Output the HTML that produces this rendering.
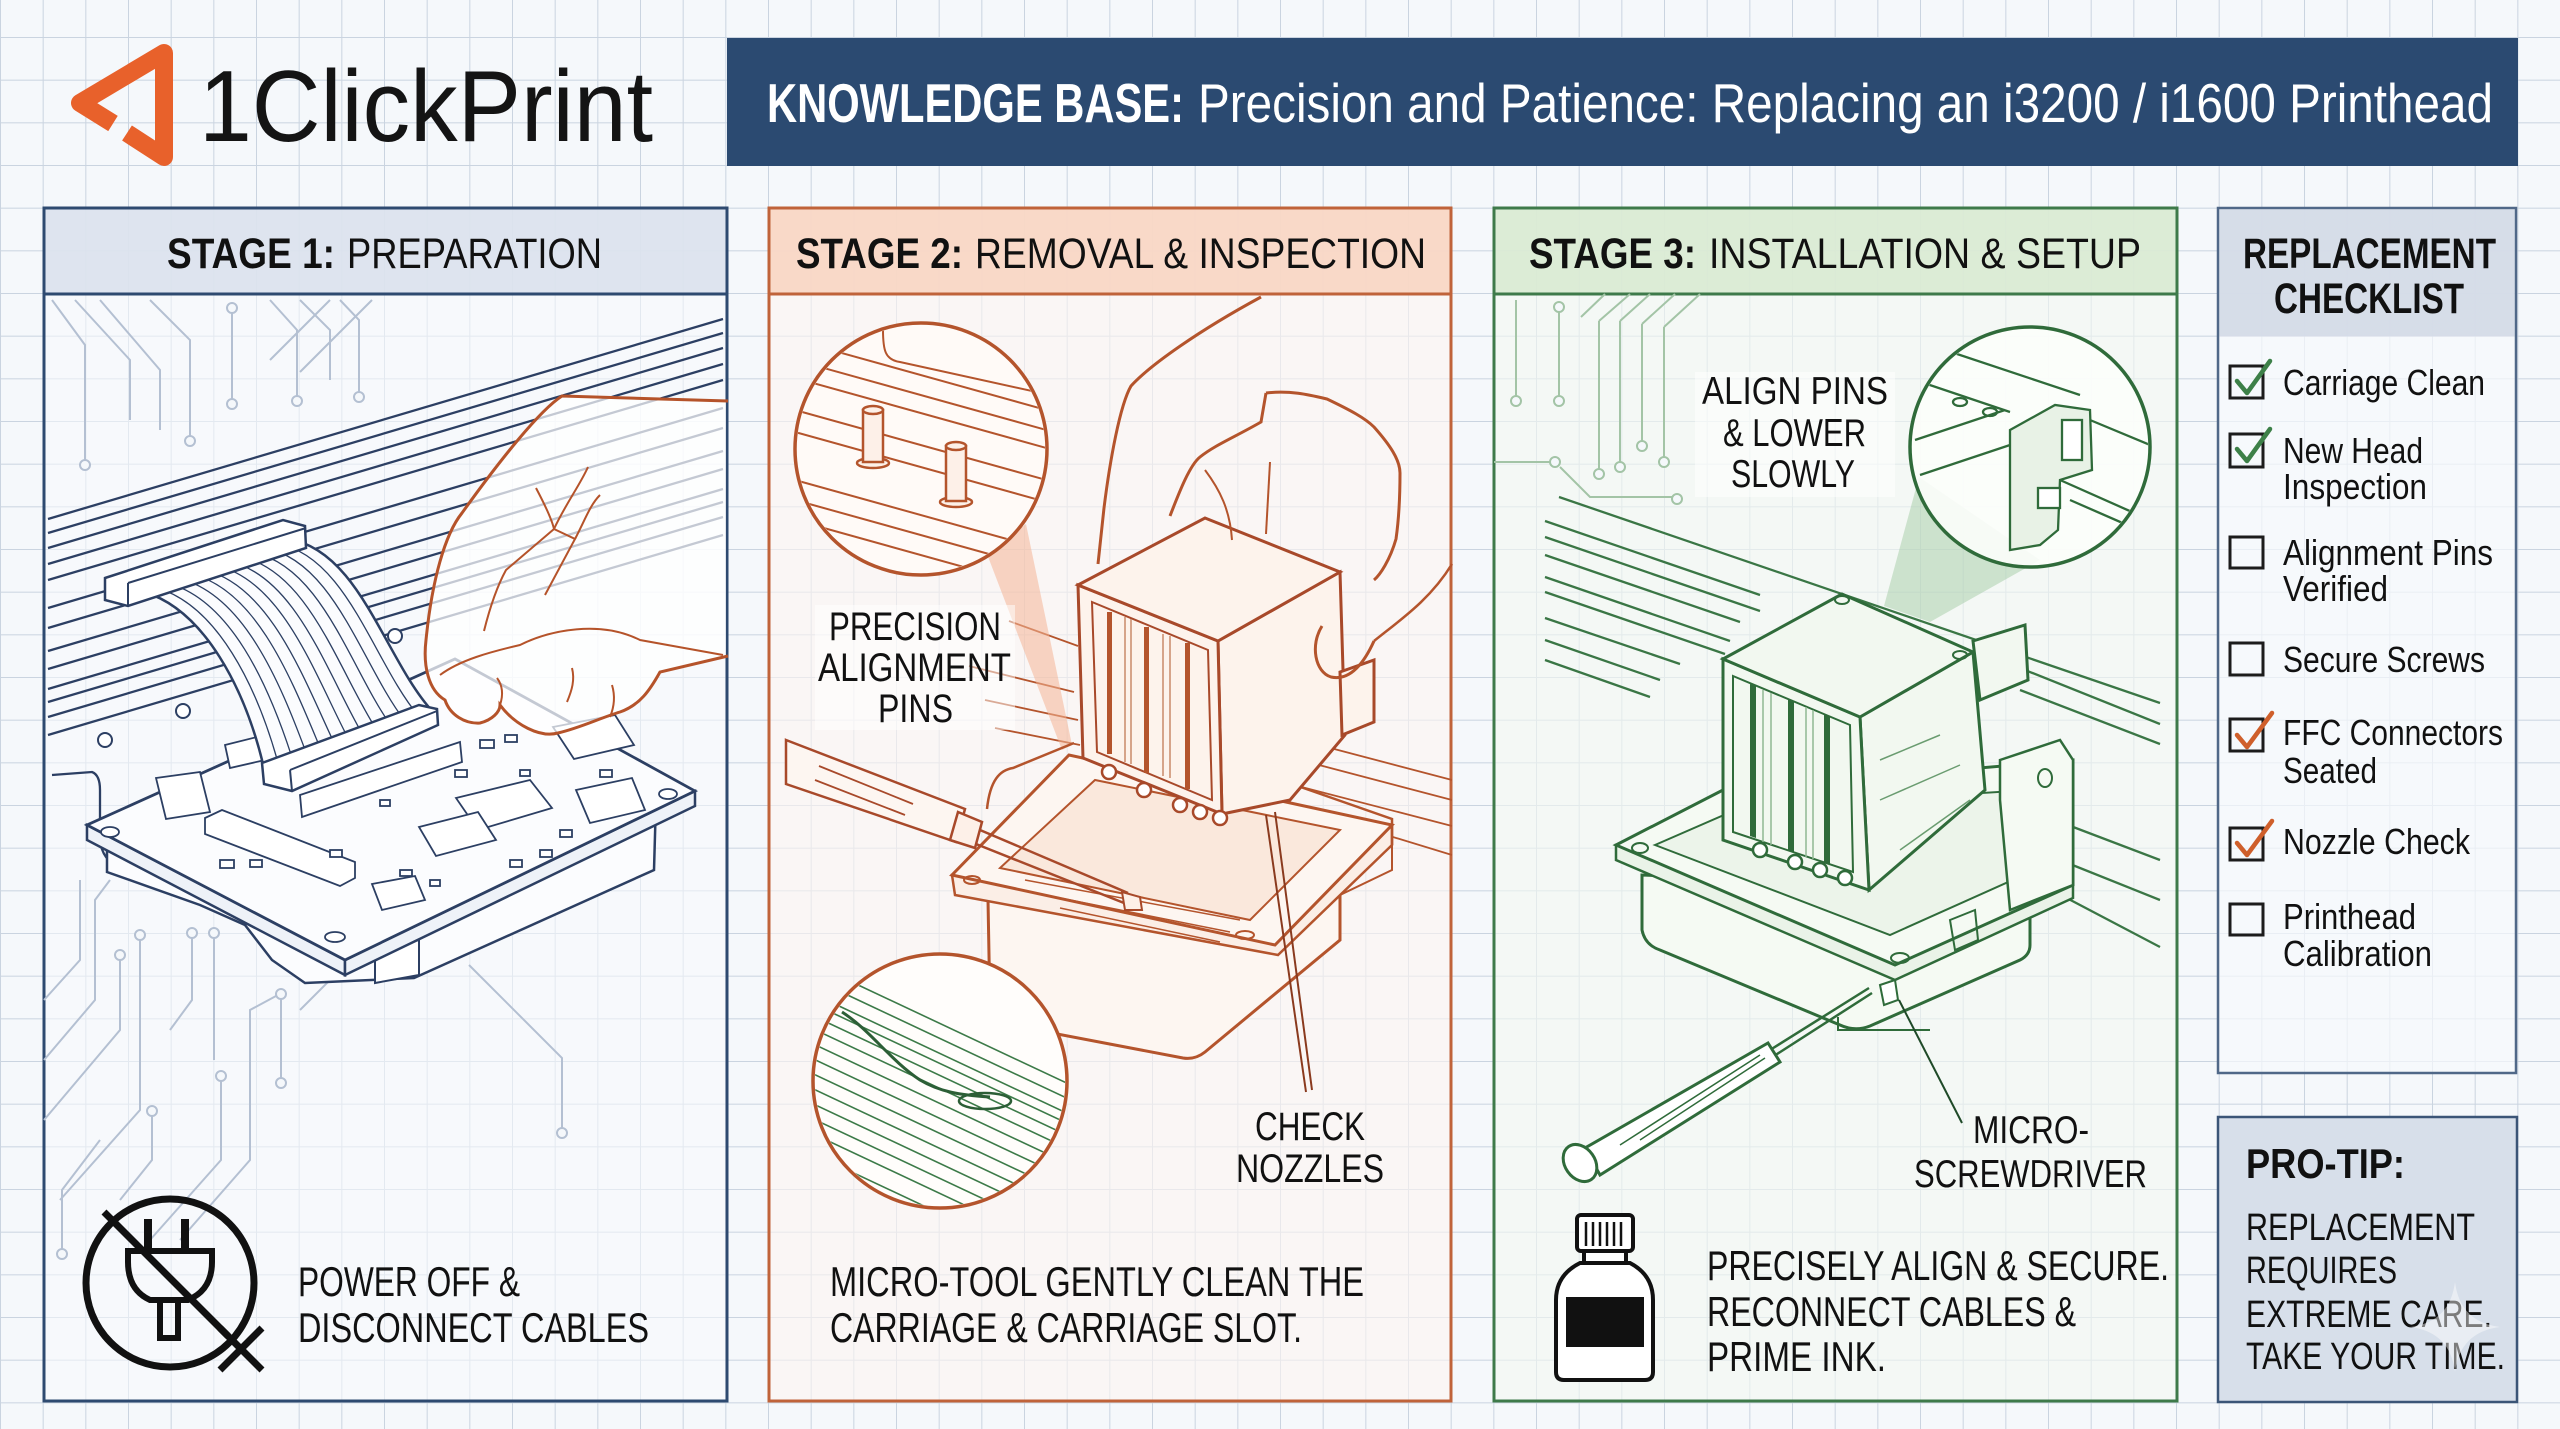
<!DOCTYPE html>
<html><head><meta charset="utf-8"><style>
html,body{margin:0;padding:0;background:#f5f8fb;}
svg{display:block}
text{font-family:"Liberation Sans Narrow","Liberation Sans",sans-serif;}
</style></head><body>
<svg width="2560" height="1429" viewBox="0 0 2560 1429" xmlns="http://www.w3.org/2000/svg">
<defs>
<pattern id="grid" x="0" y="37" width="42.667" height="42.667" patternUnits="userSpaceOnUse">
<path d="M0 0H42.667M0 0V42.667" stroke="#cad4e0" stroke-width="2" fill="none"/>
</pattern>
<clipPath id="cp2a"><circle cx="921" cy="449" r="124"/></clipPath>
<clipPath id="cp2b"><circle cx="940" cy="1081" r="125"/></clipPath>
<clipPath id="cp3"><circle cx="2030" cy="447" r="118"/></clipPath>
</defs>
<rect width="2560" height="1429" fill="#f5f8fb"/>
<rect width="2560" height="1429" fill="url(#grid)"/>

<!-- LOGO -->
<path d="M113,123.5 L80,103 L164,53 L164,157 L127,133" fill="none" stroke="#e8612b" stroke-width="18" stroke-linejoin="round"/>
<text x="199" y="141" font-size="101" fill="#141414" textLength="454" lengthAdjust="spacingAndGlyphs" style="font-family:'Liberation Sans',sans-serif">1ClickPrint</text>

<!-- TITLE BAR -->
<rect x="727" y="38" width="1791" height="128" fill="#2b4a71"/>
<text x="767" y="122" font-size="55" font-weight="bold" fill="#fff" textLength="417" lengthAdjust="spacingAndGlyphs">KNOWLEDGE BASE:</text>
<text x="1198" y="122" font-size="55" fill="#fff" textLength="1295" lengthAdjust="spacingAndGlyphs">Precision and Patience: Replacing an i3200 / i1600 Printhead</text>

<!-- PANELS -->
<rect x="44" y="208" width="683" height="1193" fill="#f8fafd" fill-opacity="0.55" stroke="#2e4a70" stroke-width="3"/>
<rect x="44" y="208" width="683" height="86" fill="#d9e1ec" fill-opacity="0.85" stroke="#2e4a70" stroke-width="3"/>
<rect x="769" y="208" width="682" height="1193" fill="#fdf5f1" fill-opacity="0.6" stroke="#c0633a" stroke-width="3"/>
<rect x="769" y="208" width="682" height="86" fill="#f8d5c2" fill-opacity="0.88" stroke="#c0633a" stroke-width="3"/>
<rect x="1494" y="208" width="683" height="1193" fill="#f4f9f2" fill-opacity="0.6" stroke="#3e7a4a" stroke-width="3"/>
<rect x="1494" y="208" width="683" height="86" fill="#d8e9d1" fill-opacity="0.88" stroke="#3e7a4a" stroke-width="3"/>
<rect x="2218" y="208" width="298" height="865" fill="#f6f9fc" fill-opacity="0.7" stroke="#506888" stroke-width="2.5"/>
<rect x="2219.5" y="209.5" width="295" height="127" fill="#d2dae6" fill-opacity="0.92"/>
<rect x="2218" y="1117" width="299" height="285" fill="#d7dfea" stroke="#3b5577" stroke-width="2.5"/>

<!-- HEADERS -->
<text x="167" y="268" font-size="43" font-weight="bold" fill="#111" textLength="168" lengthAdjust="spacingAndGlyphs">STAGE 1:</text>
<text x="347" y="268" font-size="43" fill="#111" textLength="255" lengthAdjust="spacingAndGlyphs">PREPARATION</text>
<text x="796" y="268" font-size="43" font-weight="bold" fill="#111" textLength="167" lengthAdjust="spacingAndGlyphs">STAGE 2:</text>
<text x="975" y="268" font-size="43" fill="#111" textLength="451" lengthAdjust="spacingAndGlyphs">REMOVAL &amp; INSPECTION</text>
<text x="1529" y="268" font-size="43" font-weight="bold" fill="#111" textLength="167" lengthAdjust="spacingAndGlyphs">STAGE 3:</text>
<text x="1709" y="268" font-size="43" fill="#111" textLength="432" lengthAdjust="spacingAndGlyphs">INSTALLATION &amp; SETUP</text>
<text x="2243" y="268" font-size="43" font-weight="bold" fill="#111" textLength="253" lengthAdjust="spacingAndGlyphs">REPLACEMENT</text>
<text x="2274" y="313" font-size="43" font-weight="bold" fill="#111" textLength="190" lengthAdjust="spacingAndGlyphs">CHECKLIST</text>

<!-- ================= STAGE 1 ================= -->
<g fill="none" stroke="#b4c0d2" stroke-width="2">
<path d="M52,300 L85,345 L85,460"/><path d="M75,300 L130,360 L130,420"/><path d="M100,300 L160,370 L160,430"/>
<path d="M150,300 L190,340 L190,436"/><path d="M232,313 L232,399"/><path d="M270,300 L297,330 L297,396"/>
<path d="M300,300 L330,330 L330,380"/><path d="M340,300 L359,320 L359,392"/><path d="M270,360 L330,300"/><path d="M300,372 L372,300"/>
<path d="M44,1060 L95,1000 L95,900 L110,880"/><path d="M44,1120 L120,1030 L120,960"/><path d="M60,1200 L140,1110 L140,940"/>
<path d="M120,1200 L152,1160 L152,1116"/><path d="M150,1240 L221,1160 L221,1081"/><path d="M180,1240 L250,1160 L250,1010 L276,996"/>
<path d="M281,999 L281,1078"/><path d="M192,938 L192,1000 L170,1030"/><path d="M214,938 L214,1060"/><path d="M62,1249 L62,1190 L100,1140"/>
<path d="M469,965 L562,1058 L562,1128"/><path d="M44,1000 L80,960 L80,880"/><path d="M300,1010 L340,970 L340,940"/>
</g>
<g fill="#f5f8fb" stroke="#b4c0d2" stroke-width="2">
<circle cx="85" cy="465" r="5"/><circle cx="190" cy="441" r="5"/><circle cx="232" cy="308" r="5"/><circle cx="232" cy="404" r="5"/>
<circle cx="297" cy="401" r="5"/><circle cx="359" cy="397" r="5"/><circle cx="120" cy="955" r="5"/><circle cx="140" cy="935" r="5"/>
<circle cx="152" cy="1111" r="5"/><circle cx="221" cy="1076" r="5"/><circle cx="281" cy="1083" r="5"/><circle cx="281" cy="994" r="5"/>
<circle cx="192" cy="933" r="5"/><circle cx="214" cy="933" r="5"/><circle cx="62" cy="1254" r="5"/><circle cx="562" cy="1133" r="5"/><circle cx="340" cy="935" r="5"/>
</g>
<g fill="none" stroke="#2c3f63" stroke-width="2.3">
<path d="M48,519 L723,319"/><path d="M48,533 L723,333"/><path d="M48,548 L723,348"/>
<path d="M48,564 L723,364"/><path d="M48,580 L723,380"/><path d="M48,608 L723,408"/><path d="M48,628 L723,428"/>
<path d="M48,651 L723,451"/><path d="M48,669 L723,469"/><path d="M48,689 L723,489"/>
<path d="M48,702 L723,502"/><path d="M48,717 L723,517"/><path d="M48,735 L723,535"/>
<path d="M52,775 L92,772 Q100,775 100,790 L100,840 Q102,860 120,868"/>
</g>
<g fill="#fff" stroke="#2c3f63" stroke-width="2"><circle cx="395" cy="636" r="7"/><circle cx="183" cy="711" r="7"/><circle cx="105" cy="740" r="7"/></g>
<!-- housing -->
<path d="M107,850 L107,872 L200,905 L245,925 L272,960 L305,983 L414,978 L654,870 L656,800 Z" fill="#fbfcfe" stroke="#2c3f63" stroke-width="2.5"/>
<path d="M375,950 L419,940 L419,975 L375,983 Z" fill="#fff" stroke="#2c3f63" stroke-width="2"/>
<!-- board -->
<path d="M87,825 L345,960 L345,975 L87,840 Z" fill="#eef2f8" stroke="#2c3f63" stroke-width="2.5"/>
<path d="M345,960 L695,791 L695,806 L345,975 Z" fill="#eef2f8" stroke="#2c3f63" stroke-width="2.5"/>
<path d="M87,825 L345,960 L695,791 L455,659 Z" fill="#fbfcfe" stroke="#2c3f63" stroke-width="2.8"/>
<g fill="#fff" stroke="#2c3f63" stroke-width="1.8">
<ellipse cx="110" cy="832" rx="9" ry="5"/><ellipse cx="335" cy="937" rx="10" ry="5"/><ellipse cx="668" cy="794" rx="9" ry="5"/>
<path d="M300,795 L460,742 L462,762 L302,817 Z"/>
<path d="M456,798 L530,780 L552,808 L478,830 Z"/>
<path d="M419,827 L478,812 L496,840 L436,856 Z"/>
<path d="M553,727 L615,715 L634,745 L574,759 Z"/>
<path d="M576,790 L632,778 L645,810 L590,823 Z"/>
<path d="M205,818 L222,810 L355,862 L355,878 L340,886 L205,834 Z"/>
<path d="M372,884 L415,876 L425,900 L382,910 Z"/>
<path d="M156,778 L200,772 L210,812 L166,819 Z"/>
<path d="M225,745 L265,735 L265,760 L230,768 Z"/>
<rect x="480" y="740" width="14" height="8"/><rect x="505" y="735" width="12" height="7"/><rect x="520" y="770" width="10" height="6"/>
<rect x="600" y="770" width="12" height="7"/><rect x="330" y="850" width="12" height="7"/><rect x="400" y="870" width="12" height="6"/>
<rect x="430" y="880" width="10" height="6"/><rect x="510" y="860" width="12" height="7"/><rect x="540" y="850" width="12" height="7"/>
<rect x="560" y="830" width="12" height="7"/><rect x="220" y="860" width="14" height="8"/><rect x="250" y="860" width="12" height="7"/>
<rect x="455" y="770" width="12" height="7"/><rect x="380" y="800" width="10" height="6"/>
</g>
<!-- ribbon -->
<path d="M144,592 C205,610 245,690 263,764 L433,712 C385,660 360,550 288,539 Z" fill="#fbfcfe"/>
<g fill="none" stroke="#2c3f63" stroke-width="1.3">
<path d="M156,587.6 C217.9,605 256.7,687.5 277.2,759.7"/>
<path d="M168,583.2 C230.8,600 268.3,685 291.3,755.3"/>
<path d="M180,578.8 C243.8,595 280,682.5 305.5,751"/>
<path d="M192,574.3 C256.7,590 291.7,680 319.7,746.7"/>
<path d="M204,569.9 C269.6,585 303.3,677.5 333.8,742.3"/>
<path d="M216,565.5 C282.5,580 315,675 348,738"/>
<path d="M228,561.1 C295.4,575 326.7,672.5 362.2,733.7"/>
<path d="M240,556.7 C308.3,570 338.3,670 376.3,729.3"/>
<path d="M252,552.3 C321.3,565 350,667.5 390.5,725"/>
<path d="M264,547.8 C334.2,560 361.7,665 404.7,720.7"/>
<path d="M276,543.4 C347.1,555 373.3,662.5 418.8,716.3"/>
</g>
<g fill="none" stroke="#2c3f63" stroke-width="2.5"><path d="M144,592 C205,610 245,690 263,764"/><path d="M288,539 C360,550 385,660 433,712"/></g>
<path d="M105,578 L283,520 L305,526 L306,548 L128,606 L105,600 Z" fill="#fff" stroke="#2c3f63" stroke-width="2.5"/>
<path d="M128,583 L306,528 M128,583 L128,606" fill="none" stroke="#2c3f63" stroke-width="2"/>
<path d="M262,763 L419,705 L437,709 L438,725 L292,791 L264,784 Z" fill="#fff" stroke="#2c3f63" stroke-width="2.5"/>
<path d="M290,770 L437,711 M290,770 L292,791" fill="none" stroke="#2c3f63" stroke-width="2"/>
<!-- hand -->
<path d="M726,401 L562,396 C540,410 500,460 462,513 C445,534 432,580 426,640 C423,665 428,690 445,700 C450,715 465,724 480,723 C492,720 500,712 500,705 C515,725 540,738 558,733 C580,728 600,718 620,712 C640,705 650,690 660,672 L726,656 Z" fill="#ffffff" fill-opacity="0.72" stroke="none"/>
<path d="M728,401 L562,396 C540,410 500,460 462,513 C445,534 432,580 426,640 C423,665 428,690 445,700 C450,715 465,724 480,723 C492,720 500,712 500,705 C515,725 540,738 558,733 C580,728 600,718 620,712 C640,705 650,690 660,672 L728,656" fill="none" stroke="#b5532a" stroke-width="3"/>
<g fill="none" stroke="#b5532a" stroke-width="2">
<path d="M500,705 C505,690 500,682 497,678"/><path d="M440,675 C460,660 490,652 520,645 C550,630 600,620 640,640 L723,655"/>
<path d="M536,488 C545,505 552,520 554,529 L506,570 C495,590 488,615 484,631"/>
<path d="M554,529 C565,505 580,485 588,467"/>
<path d="M554,529 L575,539 L545,595"/>
<path d="M575,539 C585,520 590,505 600,495"/>
<path d="M567,702 C572,690 575,680 572,668"/>
<path d="M610,717 C615,705 615,695 612,685"/>
</g>
<!-- no-plug icon -->
<g fill="none" stroke="#111" stroke-width="7">
<circle cx="170" cy="1283" r="84"/>
<path d="M148,1219 V1251 M185,1219 V1251" stroke-width="8"/>
<path d="M128,1251 L212,1251 L212,1262 Q212,1290 188,1300 L150,1300 Q128,1290 128,1262 Z" stroke-width="6"/>
<path d="M160,1300 V1338 H178 V1300" stroke-width="6"/>
<path d="M104,1212 L228,1336"/>
<path d="M220,1328 L262,1370 M262,1328 L220,1370"/>
</g>
<text x="298" y="1296" font-size="42" fill="#111" textLength="222" lengthAdjust="spacingAndGlyphs">POWER OFF &amp;</text>
<text x="298" y="1342" font-size="42" fill="#111" textLength="351" lengthAdjust="spacingAndGlyphs">DISCONNECT CABLES</text>

<!-- ================= STAGE 2 ================= -->
<g fill="none" stroke="#b4542c" stroke-width="1.8">
<path d="M1009,621 L1078,646"/><path d="M969,666 L1074,692"/><path d="M995,728 L1080,745"/><path d="M985,700 L1078,720"/>
<path d="M1300,740 L1452,780"/><path d="M1300,760 L1452,800"/><path d="M1290,784 L1452,826"/>
<path d="M1370,830 L1452,855"/>
</g>
<!-- cones -->
<path d="M987,554 L1026,524 L1072,745 L1062,750 Z" fill="#f4b596" fill-opacity="0.55"/>
<path d="M990,957 L1074,1003 L1138,900 L1128,894 Z" fill="#f4b596" fill-opacity="0.55"/>
<!-- upper magnifier -->
<circle cx="921" cy="449" r="126" fill="#fffaf7"/>
<g clip-path="url(#cp2a)" fill="none" stroke="#b4542c" stroke-width="2">
<path d="M795,340 L1050,411"/><path d="M795,360 L1050,431"/><path d="M795,378 L1050,449"/><path d="M795,410 L1050,481"/>
<path d="M795,432 L1050,503"/><path d="M795,480 L1050,551"/><path d="M795,500 L1050,571"/><path d="M795,520 L1050,591"/><path d="M795,545 L1050,616"/>
<path d="M883,330 C883,350 885,360 900,362 L1050,395"/>
</g>
<g fill="#fdf0e8" stroke="#b4542c" stroke-width="2.5">
<ellipse cx="873" cy="463" rx="16" ry="5"/><rect x="863" y="410" width="20" height="52"/><ellipse cx="873" cy="410" rx="10" ry="4"/>
<ellipse cx="956" cy="502" rx="16" ry="5"/><rect x="946" y="446" width="20" height="55"/><ellipse cx="956" cy="446" rx="10" ry="4"/>
</g>
<circle cx="921" cy="449" r="126" fill="none" stroke="#b4542c" stroke-width="3.5"/>
<!-- tray -->
<path d="M988,900 L990,1010 Q992,1020 1005,1024 L1183,1058 Q1195,1060 1205,1052 L1340,940 L1340,880 Z" fill="#fdf6f1" stroke="#b4542c" stroke-width="3"/>
<path d="M1340,895 L1392,870 L1392,845" fill="none" stroke="#b4542c" stroke-width="2"/>
<path d="M952,875 L955,895 L1278,955 L1392,845 L1392,825 Z" fill="#fbeee6" stroke="#b4542c" stroke-width="2.5"/>
<path d="M952,875 L1275,945 L1392,825 L1069,755 Z" fill="#fdf6f1" stroke="#b4542c" stroke-width="3"/>
<path d="M1000,868 L1250,920 L1340,830 L1095,780 Z" fill="#fae8dc" stroke="#b4542c" stroke-width="2"/>
<path d="M1025,880 L1240,920 M1045,895 L1230,932 M1060,908 L1220,942" fill="none" stroke="#b4542c" stroke-width="1.5"/>
<path d="M987,809 C990,780 1000,770 1013,768 L1074,743" fill="none" stroke="#b4542c" stroke-width="2.5"/>
<path d="M1292,784 L1392,819 L1392,845" fill="none" stroke="#b4542c" stroke-width="2.5"/>
<ellipse cx="972" cy="880" rx="8" ry="4" fill="none" stroke="#b4542c" stroke-width="2"/>
<ellipse cx="1245" cy="935" rx="9" ry="4" fill="none" stroke="#b4542c" stroke-width="2"/>
<!-- cube -->
<g stroke="#a8492a" stroke-width="3" fill="#fdf3ec">
<path d="M1218,641 L1340,572 L1345,735 L1290,800 L1222,814 Z"/>
<path d="M1078,585 L1218,641 L1222,814 L1083,758 Z"/>
<path d="M1078,585 L1205,518 L1340,572 L1218,641 Z"/>
<path d="M1340,672 L1374,660 L1374,722 L1342,735 Z"/>
</g>
<path d="M1092,602 L1208,650 L1212,800 L1097,752 Z" fill="none" stroke="#a8492a" stroke-width="2"/>
<g fill="#b4542c"><rect x="1107" y="612" width="5" height="142"/><rect x="1144" y="627" width="5" height="146"/><rect x="1185" y="643" width="5" height="146"/></g>
<path d="M1125,617 V762 M1131,619 V764 M1163,634 V776 M1170,636 V778" stroke="#c98a6a" stroke-width="1.5" fill="none"/>
<g fill="#fff" stroke="#a8492a" stroke-width="2.5"><circle cx="1109" cy="772" r="7"/><circle cx="1144" cy="790" r="7"/><circle cx="1180" cy="805" r="7"/><circle cx="1200" cy="812" r="7"/><circle cx="1220" cy="818" r="7"/></g>
<!-- hand stage2 -->
<g fill="none" stroke="#b4542c" stroke-width="3">
<path d="M1261,297 C1200,330 1150,365 1131,386 C1120,405 1110,460 1104,508 L1098,564"/>
<path d="M1170,516 C1180,490 1190,465 1200,457 C1215,445 1235,437 1261,422 L1266,393"/>
<path d="M1266,393 C1290,390 1310,395 1327,399 C1350,410 1365,418 1374,427 C1390,445 1400,460 1400,473 C1400,500 1398,525 1396,539 C1390,560 1380,575 1374,580"/>
<path d="M1270,462 L1266,534" stroke-width="2"/>
<path d="M1322,626 C1310,645 1315,672 1331,677 C1345,680 1360,672 1374,641"/>
<path d="M1374,641 C1400,620 1430,600 1452,564" stroke-width="2.5"/>
<path d="M1205,470 C1220,490 1230,510 1232,540" stroke-width="2"/>
</g>
<!-- tool -->
<path d="M786,740 L965,809 L956,842 L786,784 Z" fill="#fdf6f1" stroke="#a8492a" stroke-width="2.5"/>
<path d="M819,766 L913,804 M815,780 L905,815" fill="none" stroke="#a8492a" stroke-width="1.8"/>
<path d="M958,812 L982,822 L975,848 L950,840 Z" fill="#fdf0e8" stroke="#a8492a" stroke-width="2.5"/>
<g fill="none" stroke="#a8492a" stroke-width="2.5">
<path d="M980,830 L1128,893"/><path d="M976,844 L1124,903"/>
</g>
<path d="M1122,892 L1140,897 L1142,910 L1125,910 Z" fill="#fdf0e8" stroke="#a8492a" stroke-width="2"/>
<!-- lower magnifier -->
<circle cx="940" cy="1081" r="127" fill="#fffdfb"/>
<g clip-path="url(#cp2b)" fill="none" stroke="#3c7a48" stroke-width="1.6">
<path d="M805,990 L1075,1117"/><path d="M805,1000 L1075,1127"/><path d="M805,1012 L1075,1139"/><path d="M805,1025 L1075,1152"/>
<path d="M805,1040 L1075,1167"/><path d="M805,1055 L1075,1182"/><path d="M805,1070 L1075,1197"/><path d="M805,1085 L1075,1212"/>
<path d="M805,1100 L1075,1227"/><path d="M805,1115 L1075,1242"/><path d="M805,1130 L1075,1257"/><path d="M805,1150 L1075,1277"/>
<path d="M805,1170 L1075,1297"/><path d="M805,960 L1075,1087"/><path d="M805,975 L1075,1102"/>
<path d="M842,1012 C870,1030 890,1060 920,1080 C940,1092 960,1095 990,1097" stroke="#2c5e36" stroke-width="3"/>
<ellipse cx="985" cy="1101" rx="26" ry="8" stroke="#2c5e36" stroke-width="2.5"/>
</g>
<circle cx="940" cy="1081" r="127" fill="none" stroke="#b4542c" stroke-width="3.5"/>
<!-- leaders -->
<path d="M1266,815 L1306,1092 M1275,812 L1312,1090" stroke="#8a3a1e" stroke-width="2" fill="none"/>
<!-- labels stage2 -->
<rect x="815" y="605" width="200" height="125" fill="#fff" fill-opacity="0.5"/>
<text x="829" y="640" font-size="40" fill="#111" textLength="172" lengthAdjust="spacingAndGlyphs">PRECISION</text>
<text x="818" y="681" font-size="40" fill="#111" textLength="193" lengthAdjust="spacingAndGlyphs">ALIGNMENT</text>
<text x="878" y="722" font-size="40" fill="#111" textLength="75" lengthAdjust="spacingAndGlyphs">PINS</text>
<text x="1255" y="1140" font-size="40" fill="#111" textLength="110" lengthAdjust="spacingAndGlyphs">CHECK</text>
<text x="1236" y="1182" font-size="40" fill="#111" textLength="148" lengthAdjust="spacingAndGlyphs">NOZZLES</text>
<text x="830" y="1296" font-size="42" fill="#111" textLength="534" lengthAdjust="spacingAndGlyphs">MICRO-TOOL GENTLY CLEAN THE</text>
<text x="830" y="1342" font-size="42" fill="#111" textLength="472" lengthAdjust="spacingAndGlyphs">CARRIAGE &amp; CARRIAGE SLOT.</text>

<!-- ================= STAGE 3 ================= -->
<g fill="none" stroke="#a3c4a6" stroke-width="2">
<path d="M1516,300 V396"/><path d="M1559,312 V396"/><path d="M1581,317 L1605,294"/><path d="M1599,321 V469"/>
<path d="M1620,321 V462"/><path d="M1642,324 V441"/><path d="M1664,327 V457"/><path d="M1494,462 H1550"/>
<path d="M1560,467 L1590,497 H1672"/><path d="M1599,321 L1630,294"/><path d="M1620,321 L1650,294"/><path d="M1642,324 L1675,294"/><path d="M1664,327 L1700,294"/>
</g>
<g fill="#f5f8fb" stroke="#a3c4a6" stroke-width="2">
<circle cx="1516" cy="401" r="5"/><circle cx="1559" cy="307" r="5"/><circle cx="1559" cy="401" r="5"/><circle cx="1599" cy="474" r="5"/>
<circle cx="1620" cy="467" r="5"/><circle cx="1642" cy="446" r="5" /><circle cx="1664" cy="462" r="5"/><circle cx="1555" cy="462" r="5"/><circle cx="1677" cy="499" r="5"/>
</g>
<g fill="none" stroke="#3a7645" stroke-width="2.3">
<path d="M1559,497 L2160,703"/><path d="M1545,521 L1760,595"/><path d="M1545,537 L1760,611"/><path d="M1545,555 L1740,622"/>
<path d="M1545,577 L1730,641"/><path d="M1545,592 L1725,654"/><path d="M1545,618 L1680,664"/><path d="M1545,640 L1660,680"/><path d="M1545,660 L1650,697"/>
<path d="M2000,660 L2160,724"/><path d="M2020,690 L2160,744"/><path d="M2060,822 L2160,860"/><path d="M2040,884 L2160,947"/><path d="M2060,860 L2160,900"/>
</g>
<!-- cone 3 -->
<path d="M1884,606 L1919,477 L2040,560 L1930,622 Z" fill="#9cc79e" fill-opacity="0.45"/>
<!-- magnifier 3 -->
<circle cx="2030" cy="447" r="120" fill="#fcfefb" fill-opacity="0.9"/>
<g clip-path="url(#cp3)" fill="none" stroke="#2f6b3a" stroke-width="2.3">
<path d="M1930,345 L2080,395"/><path d="M1915,380 L2010,412"/><path d="M1915,440 L2005,410"/><path d="M1920,475 L2010,445"/>
<path d="M2060,480 L2150,520"/><path d="M2070,500 L2150,535"/><path d="M2090,420 L2150,445"/>
<path d="M2010,430 L2055,405 L2090,410 L2092,470 L2060,480 L2058,530 L2040,545 L2010,550 Z" fill="#e8f2e6"/>
<rect x="2062" y="420" width="20" height="40" fill="#fff"/><rect x="2038" y="488" width="22" height="20" fill="#fff"/>
<ellipse cx="1960" cy="402" rx="7" ry="4"/><ellipse cx="1990" cy="412" rx="7" ry="4"/>
</g>
<circle cx="2030" cy="447" r="120" fill="none" stroke="#2f6b3a" stroke-width="3.5"/>
<!-- carriage base 3 -->
<path d="M1642,875 L1642,930 Q1645,945 1660,950 L1840,1025 Q1855,1032 1870,1026 L2020,960 Q2030,955 2030,945 L2030,890 Z" fill="#f5faf3" stroke="#2f6b3a" stroke-width="3"/>
<path d="M1616,845 L1616,860 L1895,980 L2073,898 L2073,885 Z" fill="#eaf3e8" stroke="#2f6b3a" stroke-width="2.5"/>
<path d="M1616,845 L1723,790 L2073,760 L2073,885 L1895,965 Z" fill="#f5faf3" stroke="#2f6b3a" stroke-width="3"/>
<path d="M1655,845 L1740,808 L2030,790 L2035,870 L1890,935 Z" fill="#ecf4ea" stroke="#2f6b3a" stroke-width="2"/>
<path d="M2000,760 L2060,740 L2073,760 L2073,885 L2010,910 L2000,800 Z" fill="#f5faf3" stroke="#2f6b3a" stroke-width="2.5"/>
<ellipse cx="2045" cy="778" rx="7" ry="9" fill="none" stroke="#2f6b3a" stroke-width="2"/>
<ellipse cx="1640" cy="848" rx="8" ry="5" fill="none" stroke="#2f6b3a" stroke-width="2"/>
<ellipse cx="1900" cy="958" rx="9" ry="5" fill="none" stroke="#2f6b3a" stroke-width="2"/>
<path d="M1950,920 L1975,910 L1978,940 L1955,950 Z" fill="none" stroke="#2f6b3a" stroke-width="2"/>
<path d="M1838,1017 L1838,1030 L1930,1030" fill="none" stroke="#2f6b3a" stroke-width="2"/>
<!-- cube 3 -->
<g stroke="#2f6b3a" stroke-width="3" fill="#f2f8f0">
<path d="M1860,717 L1973,652 L1985,790 L1869,890 Z"/>
<path d="M1723,659 L1860,717 L1869,890 L1723,840 Z"/>
<path d="M1842,594 L1723,659 L1860,717 L1973,652 Z"/>
<path d="M1973,641 L2025,625 L2028,680 L1980,700 Z"/>
</g>
<path d="M1733,676 L1850,725 L1853,872 L1733,832 Z" fill="none" stroke="#2f6b3a" stroke-width="2"/>
<g fill="#2f6b3a"><path d="M1750,684 L1756,686 L1756,838 L1750,836 Z"/><path d="M1788,699 L1794,702 L1794,852 L1788,850 Z"/><path d="M1824,714 L1830,717 L1830,864 L1824,862 Z"/></g>
<path d="M1763,690 V842 M1771,693 V845 M1806,707 V857 M1813,710 V859" stroke="#8fb893" stroke-width="1.5" fill="none"/>
<path d="M1880,760 L1940,735 M1880,800 L1960,765 M1900,850 L1970,800" stroke="#6a9c70" stroke-width="1.5" fill="none"/>
<g fill="#fff" stroke="#2f6b3a" stroke-width="2.5"><circle cx="1760" cy="850" r="7"/><circle cx="1795" cy="862" r="7"/><circle cx="1820" cy="870" r="7"/><circle cx="1845" cy="878" r="7"/></g>
<ellipse cx="1842" cy="600" rx="7" ry="4" fill="none" stroke="#2f6b3a" stroke-width="2"/>
<ellipse cx="1960" cy="655" rx="7" ry="4" fill="none" stroke="#2f6b3a" stroke-width="2"/>
<!-- screwdriver -->
<path d="M1869,988 L1770,1050 M1872,993 L1774,1056" stroke="#2f6b3a" stroke-width="2.5" fill="none"/>
<path d="M1768,1043 L1780,1062 L1600,1175 L1585,1148 Z" fill="#fff" stroke="#2f6b3a" stroke-width="3"/>
<path d="M1760,1055 L1620,1145 M1765,1058 L1640,1140" stroke="#2f6b3a" stroke-width="1.5" fill="none"/>
<ellipse cx="1580" cy="1163" rx="15" ry="20" transform="rotate(-35 1580 1163)" fill="#fff" stroke="#2f6b3a" stroke-width="3"/>
<path d="M1880,985 L1895,980 L1898,1000 L1884,1005 Z" fill="#fff" stroke="#2f6b3a" stroke-width="2"/>
<path d="M1899,1000 L1962,1123" stroke="#1f4a28" stroke-width="2" fill="none"/>
<!-- labels stage3 -->
<rect x="1695" y="372" width="200" height="125" fill="#fff" fill-opacity="0.5"/>
<text x="1702" y="404" font-size="39" fill="#111" textLength="186" lengthAdjust="spacingAndGlyphs">ALIGN PINS</text>
<text x="1723" y="446" font-size="39" fill="#111" textLength="143" lengthAdjust="spacingAndGlyphs">&amp; LOWER</text>
<text x="1731" y="487" font-size="39" fill="#111" textLength="124" lengthAdjust="spacingAndGlyphs">SLOWLY</text>
<text x="1973" y="1143" font-size="39" fill="#111" textLength="116" lengthAdjust="spacingAndGlyphs">MICRO-</text>
<text x="1914" y="1187" font-size="39" fill="#111" textLength="233" lengthAdjust="spacingAndGlyphs">SCREWDRIVER</text>
<text x="1707" y="1280" font-size="42" fill="#111" textLength="462" lengthAdjust="spacingAndGlyphs">PRECISELY ALIGN &amp; SECURE.</text>
<text x="1707" y="1326" font-size="42" fill="#111" textLength="369" lengthAdjust="spacingAndGlyphs">RECONNECT CABLES &amp;</text>
<text x="1707" y="1371" font-size="42" fill="#111" textLength="179" lengthAdjust="spacingAndGlyphs">PRIME INK.</text>
<!-- bottle -->
<g stroke="#111" stroke-width="4">
<path d="M1580,1263 L1630,1263 Q1653,1275 1653,1300 L1653,1372 Q1653,1380 1645,1380 L1564,1380 Q1556,1380 1556,1372 L1556,1300 Q1556,1275 1580,1263 Z" fill="#fff"/>
<rect x="1584" y="1251" width="42" height="12" fill="#fff"/>
<rect x="1577" y="1215" width="56" height="36" rx="4" fill="#fff"/>
<path d="M1586,1222 V1246 M1593,1222 V1246 M1600,1222 V1246 M1607,1222 V1246 M1614,1222 V1246 M1621,1222 V1246" stroke-width="2.5"/>
</g>
<rect x="1566" y="1297" width="78" height="50" fill="#111"/>

<!-- ================= CHECKLIST ================= -->
<g fill="none" stroke="#1c1c1c" stroke-width="3">
<rect x="2230" y="366" width="33" height="32"/><rect x="2230" y="434" width="33" height="33"/><rect x="2230" y="537" width="33" height="31"/>
<rect x="2230" y="643" width="33" height="32"/><rect x="2230" y="719" width="33" height="32"/><rect x="2230" y="828" width="33" height="32"/>
<rect x="2230" y="904" width="33" height="31"/>
</g>
<g fill="none" stroke-width="4.5" stroke-linecap="round" stroke-linejoin="round">
<path d="M2237,381 L2247,393 L2270,361" stroke="#3d8048"/>
<path d="M2237,449 L2247,461 L2270,429" stroke="#3d8048"/>
<path d="M2237,735 L2247,747 L2272,713" stroke="#cf5f2b"/>
<path d="M2237,843 L2247,855 L2272,821" stroke="#cf5f2b"/>
</g>
<g font-size="36" fill="#111">
<text x="2283" y="395" textLength="202" lengthAdjust="spacingAndGlyphs">Carriage Clean</text>
<text x="2283" y="463" textLength="140" lengthAdjust="spacingAndGlyphs">New Head</text>
<text x="2283" y="499" textLength="144" lengthAdjust="spacingAndGlyphs">Inspection</text>
<text x="2283" y="565" textLength="210" lengthAdjust="spacingAndGlyphs">Alignment Pins</text>
<text x="2283" y="601" textLength="105" lengthAdjust="spacingAndGlyphs">Verified</text>
<text x="2283" y="672" textLength="202" lengthAdjust="spacingAndGlyphs">Secure Screws</text>
<text x="2283" y="745" textLength="220" lengthAdjust="spacingAndGlyphs">FFC Connectors</text>
<text x="2283" y="783" textLength="94" lengthAdjust="spacingAndGlyphs">Seated</text>
<text x="2283" y="854" textLength="187" lengthAdjust="spacingAndGlyphs">Nozzle Check</text>
<text x="2283" y="929" textLength="133" lengthAdjust="spacingAndGlyphs">Printhead</text>
<text x="2283" y="966" textLength="149" lengthAdjust="spacingAndGlyphs">Calibration</text>
</g>

<!-- PRO TIP -->
<text x="2246" y="1178" font-size="42" font-weight="bold" fill="#111" textLength="159" lengthAdjust="spacingAndGlyphs">PRO-TIP:</text>
<g font-size="38" fill="#111">
<text x="2246" y="1240" textLength="229" lengthAdjust="spacingAndGlyphs">REPLACEMENT</text>
<text x="2246" y="1283" textLength="151" lengthAdjust="spacingAndGlyphs">REQUIRES</text>
<text x="2246" y="1327" textLength="246" lengthAdjust="spacingAndGlyphs">EXTREME CARE.</text>
<text x="2246" y="1369" textLength="259" lengthAdjust="spacingAndGlyphs">TAKE YOUR TIME.</text>
</g>
<path d="M2455,1282 Q2460,1322 2500,1327 Q2460,1332 2455,1372 Q2450,1332 2410,1327 Q2450,1322 2455,1282 Z" fill="#ffffff" fill-opacity="0.45"/>
</svg>
</body></html>
